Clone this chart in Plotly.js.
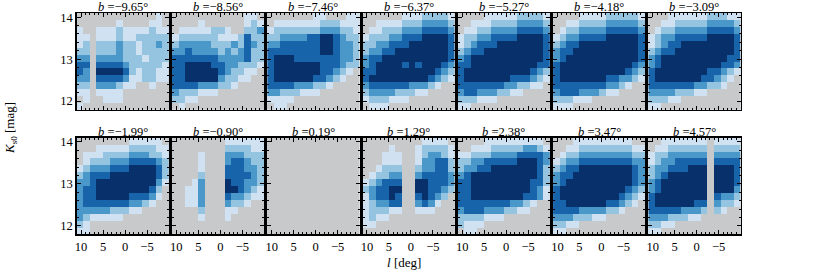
<!DOCTYPE html>
<html><head><meta charset="utf-8">
<script src="https://cdn.plot.ly/plotly-3.0.1.min.js"></script>
<style>html,body{margin:0;padding:0;background:#fff}#chart{width:830px;height:272px}</style>
</head><body><div id="chart"></div>
<script>
// Galactic latitude of each panel
const latitudes = [-9.65,-8.56,-7.46,-6.37,-5.27,-4.18,-3.09,-1.99,-0.90,0.19,1.29,2.38,3.47,4.57];
// bin centres: longitude l [deg] (left to right) and Ks0 [mag] (bottom to top)
const lCenters = [10.25,8.75,7.25,5.75,4.25,2.75,1.25,-0.25,-1.75,-3.25,-4.75,-6.25,-7.75,-9.25];
const ksCenters = [11.882,12.046,12.211,12.375,12.539,12.704,12.868,13.032,13.196,13.361,13.525,13.689,13.854,14.018];
const xTickVals = [10,5,0,-5];
const yTickVals = [12,13,14];
// density level of every cell (0 = empty), rows listed from the top (bright) to bottom
const grid_bm965 = ["00000000000010","00000010000110","10011121111211","11011121122222","12022232212232","22022232212222","33033332221222","44044443222221","43055554212211","33044443112211","22033321100100","11011110000000","01001110000000","10000000000000"];
const grid_bm856 = ["00000000000110","00001000000121","01111122100223","12222221112422","23333322232432","33433332323422","44444443333422","44555544332221","44555554322110","44555553221100","44443332210000","32221110000000","22110000000000","01000000000000"];
const grid_bm746 = ["00000001100011","01111111222111","12222222333221","22333344554322","33444444554332","44444444554332","45554444444332","45555555444322","45555555443210","45555554432100","44443332210000","33222111000000","11110000000000","01100000000000"];
const grid_bm637 = ["00000011122221","00111122233332","01122233344443","12223344455554","22334445555554","23344555555554","34455555555554","34555545455543","44555555555432","45555555554321","34444443332100","23333222110000","12221110000000","01110000000000"];
const grid_bm527 = ["00001111122221","00111222233332","01122333344443","12233444455554","12344455555554","23445555555554","34555555555554","44555555555544","45555555555432","45555555444321","44444443322110","34433322110000","22211100000000","11000000000000"];
const grid_bm418 = ["00001111222221","00112222333332","01223333444443","12334444555554","23445555555554","34455555555554","34555555555554","45555555555543","45555555555432","45555555443321","44444444332100","34443332110000","22211100000000","11100000000000"];
const grid_bm309 = ["00011111122211","00112222233332","01223333344443","12334444455554","12344555555554","23445555555554","34555555555544","34555555555443","45555555544321","45555555443210","44444443322100","33332221100000","22211000000000","11000000000000"];
const grid_bm199 = ["00000000111110","00011111222211","01112222333221","01222333444432","12333444555542","23444555555542","33455555555531","34455555555420","34455555444310","34444444332100","33333222110000","32111110000000","21000000000000","11000000000000"];
const grid_bm090 = ["00000000111111","00000000222211","00001000333222","00001000344322","00001000444332","00002000444432","00013000544332","00113000554321","00113000433211","00113000322100","00002000110000","00001000100000","00000000000000","00000000000000"];
const grid_bp019 = ["00000000000000","00000000000000","00000000000000","00000000000000","00000000000000","00000000000000","00000000000000","00000000000000","00000000000000","00000000000000","00000000000000","00000000000000","00000000000000","00000000000000"];
const grid_bp129 = ["00000000011110","00001000122221","00011100123321","00011100133442","00122200233442","01223300344443","12344400554443","23445500554432","13445400454320","12334400343100","12221100111000","12110000000000","11000000000000","00000000000000"];
const grid_bp238 = ["00001111111110","00111222223321","11222333344443","22334444455543","23344555555542","34555555555542","44555555555442","44555555555431","44555555554431","44444444332100","34443332211000","22221110000000","21110000000000","01100000000000"];
const grid_bp347 = ["00011111111100","00112222222211","01223333333322","12334444444433","23445555555543","34455555555543","34555555555543","45555555555432","45555555554321","44555555443210","44443333221000","33322211000000","22110000000000","11000000000000"];
const grid_bp457 = ["00111111101111","01122222202222","12233333303333","12334444404444","23344455505554","23455555505554","34555555505554","34555555505553","45555555504332","45555554403221","44444333202100","33322211000000","22110000000000","11000000000000"];
const panelGrids = [grid_bm965,grid_bm856,grid_bm746,grid_bm637,grid_bm527,grid_bm418,grid_bm309,
                    grid_bm199,grid_bm090,grid_bp019,grid_bp129,grid_bp238,grid_bp347,grid_bp457];
const levelColors = ['#c8c9cb','#d0e1f2','#94c4df','#4a98c9','#1764ab','#08306b'];

const FW=830, FH=272, FONT='"Liberation Serif", "Times New Roman", serif';
const colscale=[];
levelColors.forEach((c,i)=>{const a=Math.max(0,(i-0.5)/5), b=Math.min(1,(i+0.5)/5); colscale.push([a,c]); colscale.push([b,c]);});

const panelLeft0=76.7, panelPitch=95.27, panelW=92.3, panelH=96.5, rowTops=[13,137.7];
const traces=[]; const layout={width:FW,height:FH,margin:{l:0,r:0,t:0,b:0},paper_bgcolor:'#fff',plot_bgcolor:'#c8c9cb',showlegend:false,annotations:[]};
const axisBase={ticks:'inside',ticklen:4,tickwidth:1,tickcolor:'#000',showline:true,linewidth:1.5,linecolor:'#000',mirror:'allticks',
  showgrid:false,zeroline:false,fixedrange:true,tickfont:{family:FONT,size:12.5,color:'#000'}};
for(let k=0;k<14;k++){
  const row=Math.floor(k/7), col=k%7;
  const left=panelLeft0+col*panelPitch, top=rowTops[row];
  const sfx = k===0?'':String(k+1);
  const z = panelGrids[k].slice().reverse().map(r=>r.split('').map(Number));
  traces.push({type:'heatmap',x:lCenters,y:ksCenters,z:z,zmin:0,zmax:5,colorscale:colscale,showscale:false,hoverinfo:'skip',
    xaxis:'x'+sfx,yaxis:'y'+sfx});
  layout['xaxis'+sfx]=Object.assign({},axisBase,{domain:[left/FW,(left+panelW)/FW],anchor:'y'+sfx,range:[11,-10],
    tickvals:xTickVals,showticklabels:row===1,minor:{ticks:'inside',ticklen:2,tickwidth:1,tickcolor:'#000',dtick:1,tick0:0,showgrid:false}});
  layout['yaxis'+sfx]=Object.assign({},axisBase,{domain:[1-(top+panelH)/FH,1-top/FH],anchor:'x'+sfx,range:[11.8,14.1],
    tickvals:yTickVals,showticklabels:col===0,minor:{ticks:'inside',ticklen:2,tickwidth:1,tickcolor:'#000',dtick:0.2,tick0:0,showgrid:false}});
  const bstr = (latitudes[k]<0?'\u2212':'')+Math.abs(latitudes[k]).toFixed(2);
  layout.annotations.push({xref:'paper',yref:'paper',x:(left+panelW/2)/FW,y:1-top/FH,xanchor:'center',yanchor:'bottom',yshift:-2,borderpad:0,
    text:'<i>b</i> ='+bstr+'°',showarrow:false,font:{family:FONT,size:12.5,color:'#000'}});
}
layout.annotations.push({xref:'paper',yref:'paper',x:10/FW,y:1-128/FH,xanchor:'center',yanchor:'middle',textangle:-90,
  text:'<i>K</i><sub>s0</sub> [mag]',showarrow:false,font:{family:FONT,size:13,color:'#000'}});
layout.annotations.push({xref:'paper',yref:'paper',x:404/FW,y:1-262/FH,xanchor:'center',yanchor:'middle',
  text:'<i>l</i> [deg]',showarrow:false,font:{family:FONT,size:13,color:'#000'}});
Plotly.newPlot('chart',traces,layout,{staticPlot:true,displayModeBar:false});
</script></body></html>
